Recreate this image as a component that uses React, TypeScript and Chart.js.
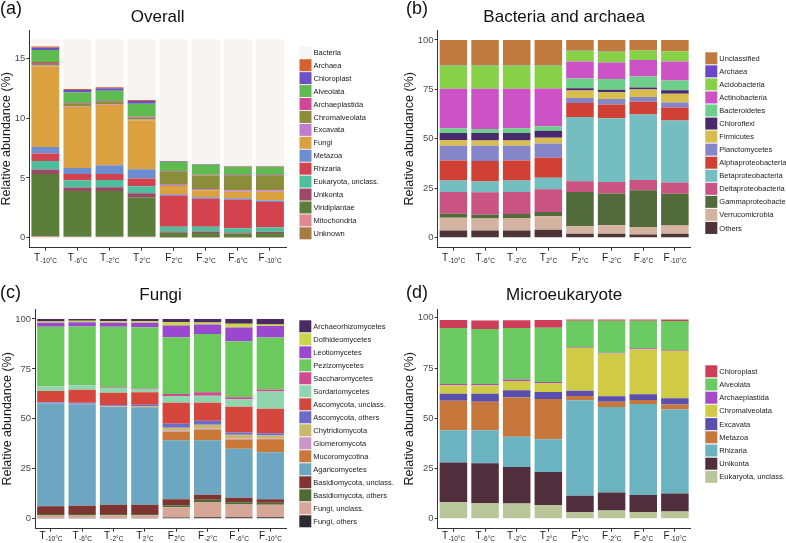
import React, { useEffect, useRef } from 'react';
import { Chart, registerables } from 'chart.js';

Chart.register(...registerables);

const FONT = '"Liberation Sans", Arial, Helvetica, sans-serif';
const AXIS = '#333333';

// ---------- categories ----------
const sampleMain = ['T', 'T', 'T', 'T', 'F', 'F', 'F', 'F'];
const sampleSub = ['-10°C', '-6°C', '-2°C', '2°C', '2°C', '-2°C', '-6°C', '-10°C'];
const sampleLabels = sampleMain.map((m, i) => m + sampleSub[i]);

// ---------- (a) Overall (stack order bottom -> top) ----------
const overallTaxa = ['Unknown', 'Mitochondria', 'Viridiplantae', 'Unikonta', 'Eukaryota, unclass.', 'Rhizaria', 'Metazoa', 'Fungi', 'Excavata', 'Chromalveolata', 'Archaeplastida', 'Alveolata', 'Chloroplast', 'Archaea', 'Bacteria'];
const overallColors = ['#A87C41', '#E18790', '#5B7F3A', '#9C4866', '#4DBF9E', '#D4414F', '#6D8DD2', '#DCA13F', '#C47ACF', '#8B8D38', '#D3449B', '#5DBB4F', '#6B50C8', '#D6602E', '#F8F4F2'];
const overallValues = [
  [0.05, 0.05, 0.05, 0.05, 0.03, 0.03, 0.03, 0.03],
  [0.05, 0.03, 0.03, 0.03, 0.02, 0.02, 0.02, 0.02],
  [5.23, 3.82, 3.82, 3.30, 0.37, 0.35, 0.30, 0.35],
  [0.36, 0.30, 0.32, 0.33, 0.10, 0.12, 0.08, 0.10],
  [0.73, 0.60, 0.60, 0.60, 0.40, 0.40, 0.37, 0.38],
  [0.61, 0.52, 0.50, 0.64, 2.60, 2.33, 2.37, 2.10],
  [0.55, 0.50, 0.73, 0.77, 0.12, 0.14, 0.13, 0.14],
  [6.75, 5.12, 5.05, 4.10, 0.68, 0.57, 0.55, 0.72],
  [0.07, 0.06, 0.06, 0.06, 0.10, 0.12, 0.12, 0.13],
  [0.20, 0.18, 0.18, 0.18, 1.10, 1.12, 1.18, 1.18],
  [0.07, 0.06, 0.06, 0.06, 0.06, 0.06, 0.06, 0.06],
  [1.00, 0.90, 0.88, 1.08, 0.75, 0.84, 0.69, 0.69],
  [0.20, 0.20, 0.20, 0.22, 0.04, 0.04, 0.04, 0.04],
  [0.10, 0.08, 0.08, 0.08, 0.03, 0.03, 0.03, 0.03],
  [0.58, 4.13, 3.99, 5.05, 10.15, 10.38, 10.58, 10.58],
];
const overallTicks = [0, 5, 10, 15];

// ---------- (b) Bacteria and archaea ----------
const bacTaxa = ['Others', 'Verrucomicrobia', 'Gammaproteobacteria', 'Deltaproteobacteria', 'Betaproteobacteria', 'Alphaproteobacteria', 'Planctomycetes', 'Firmicutes', 'Chloroflexi', 'Bacteroidetes', 'Actinobacteria', 'Acidobacteria', 'Archaea', 'Unclassified'];
const bacColors = ['#4E3436', '#D4B3A0', '#516B3A', '#C95482', '#74BDC0', '#D04035', '#8586C9', '#D6BD4E', '#4A2A6E', '#6ECF8A', '#CC52C6', '#86D147', '#6A47C9', '#C07A3E'];
const bacValues = [
  [3.7, 3.7, 3.7, 4.1, 2.0, 2.0, 1.7, 2.0],
  [6.4, 6.1, 6.3, 6.8, 3.8, 4.3, 3.8, 4.2],
  [2.1, 1.9, 2.0, 2.1, 17.4, 16.1, 18.5, 16.0],
  [11.0, 11.3, 11.2, 11.5, 5.4, 5.8, 5.2, 5.7],
  [5.8, 5.5, 5.8, 5.9, 32.5, 32.2, 33.1, 31.4],
  [10.0, 10.3, 10.0, 10.0, 7.0, 7.0, 6.5, 6.5],
  [7.5, 7.7, 7.5, 7.3, 2.6, 2.7, 2.3, 2.6],
  [2.8, 2.7, 2.7, 2.9, 3.7, 3.5, 3.8, 4.4],
  [3.7, 3.7, 3.8, 3.5, 1.2, 1.2, 1.1, 1.7],
  [2.4, 2.1, 2.3, 2.3, 4.9, 5.5, 5.5, 5.0],
  [19.9, 20.3, 20.0, 19.0, 8.6, 8.3, 8.4, 9.6],
  [11.8, 11.8, 11.8, 11.7, 5.4, 5.4, 4.7, 5.1],
  [0.2, 0.2, 0.2, 0.2, 0.1, 0.1, 0.1, 0.1],
  [12.7, 12.7, 12.7, 12.7, 5.4, 5.9, 5.3, 5.7],
];
const pctTicks = [0, 25, 50, 75, 100];

// ---------- (c) Fungi ----------
const fungiTaxa = ['Fungi, others', 'Fungi, unclass.', 'Basidiomycota, others', 'Basidiomycota, unclass.', 'Agaricomycetes', 'Mucoromycotina', 'Glomeromycota', 'Chytridiomycota', 'Ascomycota, others', 'Ascomycota, unclass.', 'Sordariomycetes', 'Saccharomycetes', 'Pezizomycetes', 'Leotiomycetes', 'Dothideomycetes', 'Archaeorhizomycetes'];
const fungiColors = ['#2E2B33', '#D6A697', '#4E6B34', '#7E3532', '#6CA6C1', '#C97838', '#C994C9', '#C9B96A', '#6B6BCE', '#D5473C', '#8FD6AE', '#CF4A8E', '#6CC95E', '#9A48CF', '#C8D84A', '#4A2A63'];
const fungiValues = [
  [0.3, 0.3, 0.3, 0.3, 0.6, 0.7, 0.7, 0.7],
  [1.3, 1.3, 1.4, 1.4, 5.2, 7.7, 6.4, 6.3],
  [0.7, 0.7, 0.6, 0.6, 0.9, 1.1, 1.2, 1.0],
  [4.0, 4.2, 4.7, 4.7, 3.0, 2.5, 2.2, 1.7],
  [51.5, 50.8, 49.0, 48.8, 29.6, 27.3, 24.5, 23.6],
  [0.1, 0.1, 0.1, 0.2, 4.3, 5.3, 4.7, 6.5],
  [0.1, 0.1, 0.1, 0.1, 0.4, 0.4, 0.5, 0.3],
  [0.1, 0.1, 0.2, 0.2, 1.6, 2.0, 1.9, 1.6],
  [0.3, 0.5, 0.4, 0.8, 1.9, 2.0, 1.1, 1.1],
  [5.6, 6.5, 6.3, 6.2, 10.5, 9.0, 12.8, 12.2],
  [2.2, 2.2, 2.5, 1.6, 3.5, 3.6, 3.8, 8.7],
  [0.1, 0.1, 0.3, 0.3, 0.9, 1.7, 1.0, 1.0],
  [29.8, 29.4, 30.2, 30.6, 28.4, 29.2, 28.0, 26.0],
  [2.0, 2.1, 2.0, 2.3, 6.0, 4.8, 6.9, 5.8],
  [0.7, 0.7, 0.8, 0.8, 1.7, 1.0, 1.9, 0.8],
  [1.2, 0.9, 1.1, 1.1, 1.5, 1.7, 2.4, 2.7],
];

// ---------- (d) Microeukaryote ----------
const microTaxa = ['Eukaryota, unclass.', 'Unikonta', 'Rhizaria', 'Metazoa', 'Excavata', 'Chromalveolata', 'Archaeplastida', 'Alveolata', 'Chloroplast'];
const microColors = ['#B8C69A', '#512E3C', '#6CB3C2', '#C8773C', '#5A4EAE', '#CFCB45', '#A94ACB', '#6BCB62', '#CF3E58'];
const microValues = [
  [8.2, 7.8, 7.6, 6.8, 3.4, 4.1, 3.4, 3.6],
  [19.8, 19.8, 18.2, 16.5, 8.0, 9.0, 8.4, 9.0],
  [16.0, 16.4, 15.0, 16.2, 47.6, 42.5, 45.3, 41.8],
  [14.7, 14.2, 19.6, 20.1, 2.1, 2.6, 2.0, 2.4],
  [3.5, 4.0, 3.6, 3.5, 2.6, 2.8, 2.9, 3.2],
  [4.2, 4.3, 4.6, 4.4, 21.4, 21.2, 22.4, 23.6],
  [0.7, 0.6, 0.7, 0.6, 0.4, 0.4, 0.4, 0.4],
  [27.8, 27.3, 25.6, 27.0, 13.0, 15.9, 13.7, 14.4],
  [4.0, 4.3, 3.9, 3.8, 0.7, 0.7, 0.7, 0.8],
];

// ---------- plugins ----------
const taxLegend = {
  id: 'taxLegend',
  afterDraw(chart: any, _args: any, opts: any) {
    const { ctx, chartArea } = chart;
    const ds = chart.data.datasets;
    ctx.save();
    ctx.font = `${opts.fontSize}px ${FONT}`;
    ctx.textBaseline = 'middle';
    ctx.textAlign = 'left';
    const x = chartArea.right + opts.gap;
    for (let k = 0; k < ds.length; k++) {
      const d = ds[ds.length - 1 - k];
      const y = opts.top + k * opts.row;
      ctx.fillStyle = d.backgroundColor;
      ctx.fillRect(x, y, opts.box, opts.box);
      ctx.fillStyle = '#1a1a1a';
      ctx.fillText(d.label, x + opts.box + opts.textGap, y + opts.box / 2 + 0.5);
    }
    ctx.restore();
  },
};

const sampleLabelPlugin = {
  id: 'sampleLabels',
  afterDraw(chart: any, _args: any, opts: any) {
    const xs = chart.scales.x;
    const ctx = chart.ctx;
    ctx.save();
    ctx.fillStyle = '#1a1a1a';
    ctx.textBaseline = 'alphabetic';
    ctx.textAlign = 'left';
    const base = xs.top + opts.offset;
    const mainFont = `${opts.mainSize}px ${FONT}`;
    const subFont = `${opts.subSize}px ${FONT}`;
    sampleMain.forEach((m, i) => {
      const cx = xs.getPixelForValue(i);
      ctx.font = mainFont;
      const wm = ctx.measureText(m).width;
      ctx.font = subFont;
      const ws = ctx.measureText(sampleSub[i]).width;
      const x0 = cx - (wm + ws) / 2;
      ctx.font = mainFont;
      ctx.fillText(m, x0, base);
      ctx.font = subFont;
      ctx.fillText(sampleSub[i], x0 + wm + 0.3, base + opts.subDrop);
    });
    ctx.restore();
  },
};

// ---------- panel definitions (layout / style) ----------
type Panel = {
  tag: string; title: string; taxa: string[]; colors: string[]; values: number[][]; ticks: number[];
  yMin: number; yMax: number; left: number; top: number; width: number; height: number;
  padLeft: number; padRight: number; padBottom: number; titleTop: number; titleBottom: number;
  legendTop: number; legendRow: number; legendGap: number; labelOffset: number; tagX: number; tagY: number;
};

const panels: Panel[] = [
  {
    tag: '(a)', title: 'Overall', taxa: overallTaxa, colors: overallColors, values: overallValues, ticks: overallTicks,
    yMin: -0.83, yMax: 17.35, left: 0, top: 0, width: 393, height: 272,
    padLeft: 0, padRight: 107, padBottom: 10.3, titleTop: 6.7, titleBottom: 2.9,
    legendTop: 46.3, legendRow: 12.93, legendGap: 13.5, labelOffset: 13, tagX: 0, tagY: -1,
  },
  {
    tag: '(b)', title: 'Bacteria and archaea', taxa: bacTaxa, colors: bacColors, values: bacValues, ticks: pctTicks,
    yMin: -5, yMax: 105, left: 393, top: 0, width: 393, height: 272,
    padLeft: 10, padRight: 95.3, padBottom: 10.3, titleTop: 6.7, titleBottom: 2.9,
    legendTop: 52.3, legendRow: 13.05, legendGap: 14.6, labelOffset: 13, tagX: 13, tagY: -1,
  },
  {
    tag: '(c)', title: 'Fungi', taxa: fungiTaxa, colors: fungiColors, values: fungiValues, ticks: pctTicks,
    yMin: -5, yMax: 105, left: 0, top: 272, width: 393, height: 271,
    padLeft: 0.5, padRight: 107, padBottom: 0.3, titleTop: 13.5, titleBottom: 3.1,
    legendTop: 48.3, legendRow: 13.0, legendGap: 13.3, labelOffset: 10, tagX: 0, tagY: 11,
  },
  {
    tag: '(d)', title: 'Microeukaryote', taxa: microTaxa, colors: microColors, values: microValues, ticks: pctTicks,
    yMin: -4.97, yMax: 104.4, left: 393, top: 272, width: 393, height: 271,
    padLeft: 10, padRight: 95.3, padBottom: 0.3, titleTop: 13.5, titleBottom: 3.1,
    legendTop: 93.3, legendRow: 13.2, legendGap: 14.6, labelOffset: 10, tagX: 13, tagY: 11,
  },
];

function makeConfig(p: Panel): any {
  return {
    type: 'bar',
    data: {
      labels: sampleLabels,
      datasets: p.taxa.map((name, i) => ({
        label: name,
        data: p.values[i],
        backgroundColor: p.colors[i],
        borderWidth: 0,
        barPercentage: 0.87,
        categoryPercentage: 1.0,
        stack: 's',
      })),
    },
    plugins: [taxLegend, sampleLabelPlugin],
    options: {
      responsive: false,
      maintainAspectRatio: false,
      animation: false,
      layout: { padding: { left: p.padLeft, right: p.padRight, top: 0, bottom: p.padBottom } },
      plugins: {
        legend: { display: false },
        tooltip: { enabled: false },
        title: {
          display: true,
          text: p.title,
          fullSize: false,
          color: '#111',
          font: { family: FONT, size: 17, weight: 'normal', lineHeight: 1.2 },
          padding: { top: p.titleTop, bottom: p.titleBottom },
        },
        taxLegend: { top: p.legendTop, row: p.legendRow, gap: p.legendGap, box: 12, textGap: 2, fontSize: 7.5 },
        sampleLabels: { offset: p.labelOffset, mainSize: 10, subSize: 6.5, subDrop: 2 },
      },
      scales: {
        x: {
          stacked: true,
          offset: true,
          grid: { display: true, drawOnChartArea: false, drawTicks: true, tickLength: 3, color: AXIS, offset: false },
          border: { display: true, color: AXIS, width: 1 },
          ticks: { color: 'rgba(0,0,0,0)', font: { family: FONT, size: 10, lineHeight: 1.1 }, padding: 0, maxRotation: 0, minRotation: 0, autoSkip: false },
        },
        y: {
          stacked: true,
          min: p.yMin,
          max: p.yMax,
          afterBuildTicks: (scale: any) => {
            scale.ticks = p.ticks.map((v) => ({ value: v }));
          },
          grid: { display: true, drawOnChartArea: false, drawTicks: true, tickLength: 3, color: AXIS },
          border: { display: true, color: AXIS, width: 1 },
          ticks: { color: '#4d4d4d', font: { family: FONT, size: 9.5 }, padding: 1 },
          title: {
            display: true,
            text: 'Relative abundance (%)',
            color: '#1a1a1a',
            font: { family: FONT, size: 12.5, lineHeight: 1.1 },
            padding: 0,
          },
        },
      },
    },
  };
}

function PanelChart({ p }: { p: Panel }) {
  const ref = useRef<HTMLCanvasElement | null>(null);
  useEffect(() => {
    if (!ref.current) return;
    const chart = new Chart(ref.current, makeConfig(p));
    return () => chart.destroy();
  }, [p]);
  return (
    <canvas
      ref={ref}
      width={p.width}
      height={p.height}
      style={{ position: 'absolute', left: p.left, top: p.top, width: p.width, height: p.height }}
    />
  );
}

export default function App() {
  return (
    <div style={{ position: 'fixed', left: 0, top: 0, width: 786, height: 543, background: '#ffffff', overflow: 'hidden' }}>
      {panels.map((p) => (
        <PanelChart key={p.tag} p={p} />
      ))}
      {panels.map((p) => (
        <div
          key={'tag' + p.tag}
          style={{ position: 'absolute', left: p.left + p.tagX, top: p.top + p.tagY, fontFamily: FONT, fontSize: 18, lineHeight: '18px', color: '#111' }}
        >
          {p.tag}
        </div>
      ))}
    </div>
  );
}
